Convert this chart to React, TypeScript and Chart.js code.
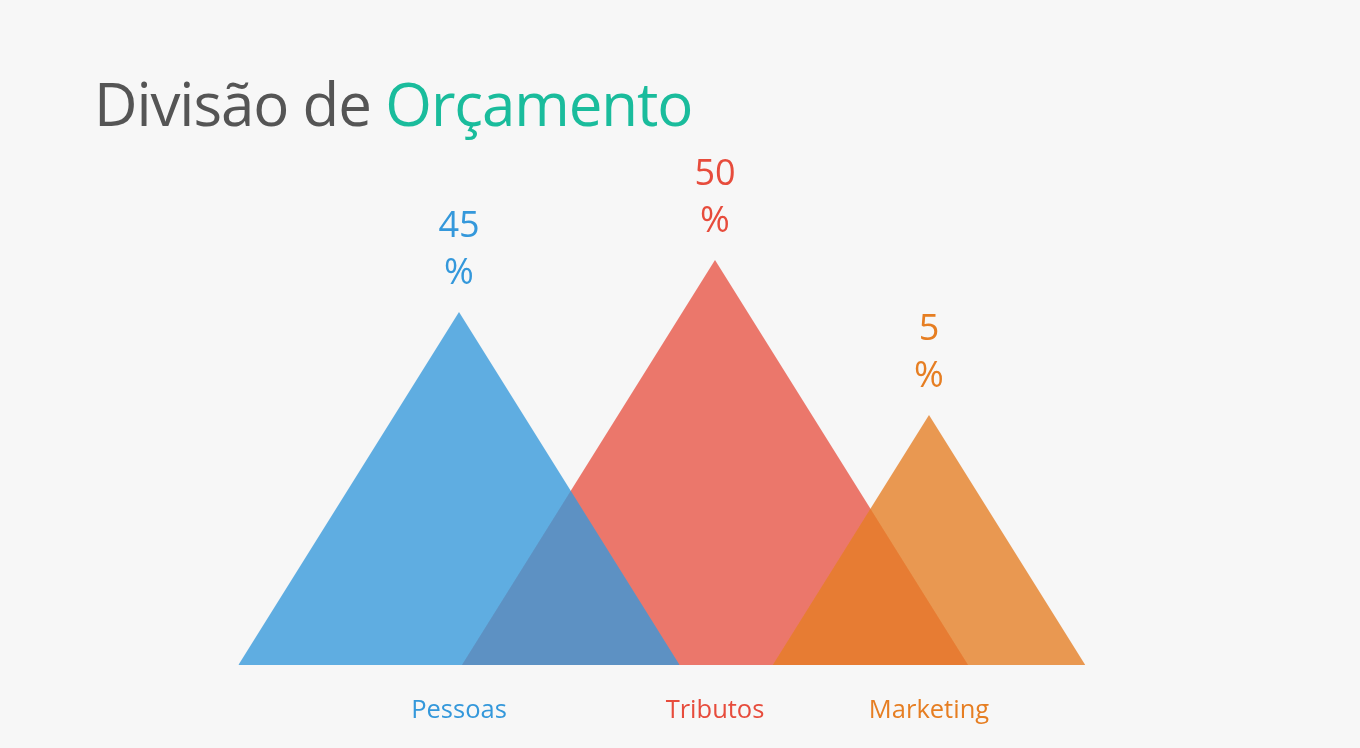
import React, { useEffect, useRef } from "react";
import { Chart, registerables } from "chart.js";

Chart.register(...registerables);

const categories = ["Pessoas", "Tributos", "Marketing"];
const percentValues = [45, 50, 5];
const peakPositions = [459, 715, 929];
const peakHeights = [353, 405, 250];
const slopeRatio = 0.625; // half base width per unit of height
const baseColors = ["#3498db", "#e74c3c", "#e67e22"];
const fillColors = ["rgba(52,152,219,0.78)", "rgba(231,76,60,0.75)", "rgba(230,126,34,0.78)"];
const drawOrder = [1, 2, 1];

const labelPlugin = {
  id: "triLabels",
  afterDatasetsDraw(chart: any) {
    const ctx = chart.ctx;
    const yScale = chart.scales.y;
    const baseY = yScale.getPixelForValue(0);
    chart.data.datasets.forEach((ds: any, i: number) => {
      const meta = chart.getDatasetMeta(i);
      const peak = meta.data[1];
      if (!peak) return;
      ctx.save();
      ctx.fillStyle = baseColors[i];
      ctx.textAlign = "center";
      ctx.textBaseline = "alphabetic";
      ctx.font = '36px "Open Sans"';
      ctx.fillText("%", peak.x, peak.y - 28);
      ctx.fillText(String(percentValues[i]), peak.x, peak.y - 75);
      ctx.font = '25.5px "Open Sans"';
      ctx.fillText(categories[i], peak.x, baseY + 53);
      ctx.restore();
    });
  },
};

export default function App() {
  const ref = useRef<HTMLCanvasElement>(null);
  useEffect(() => {
    if (!ref.current) return;
    const datasets = categories.map((c, i) => {
      const hw = peakHeights[i] * slopeRatio;
      return {
        label: c,
        data: [
          { x: peakPositions[i] - hw, y: 0 },
          { x: peakPositions[i], y: peakHeights[i] },
          { x: peakPositions[i] + hw, y: 0 },
        ],
        showLine: true,
        fill: "origin",
        backgroundColor: fillColors[i],
        borderWidth: 0,
        borderColor: "rgba(0,0,0,0)",
        pointRadius: 0,
        tension: 0,
        order: drawOrder[i],
      };
    });
    const chart = new Chart(ref.current, {
      type: "scatter",
      data: { datasets } as any,
      options: {
        animation: false,
        responsive: false,
        maintainAspectRatio: false,
        layout: { padding: 0 },
        plugins: { legend: { display: false }, tooltip: { enabled: false }, title: { display: false } },
        scales: {
          x: { type: "linear", min: 0, max: 1360, display: false },
          y: { type: "linear", min: -83, max: 665, display: false },
        },
      },
      plugins: [labelPlugin],
    } as any);
    return () => chart.destroy();
  }, []);
  return (
    <div style={{ position: "absolute", left: 0, top: 0, width: 1360, height: 748, background: "#f7f7f7", overflow: "hidden" }}>
      <canvas ref={ref} width={1360} height={748} style={{ position: "absolute", left: 0, top: 0 }} />
      <div
        style={{
          position: "absolute",
          left: 94,
          top: 63,
          fontFamily: '"Open Sans", sans-serif',
          fontSize: 60,
          letterSpacing: "-1.1px",
          lineHeight: "80px",
          color: "#555555",
          whiteSpace: "nowrap",
        }}
      >
        Divisão de <span style={{ color: "#1abc9c" }}>Orçamento</span>
      </div>
    </div>
  );
}
